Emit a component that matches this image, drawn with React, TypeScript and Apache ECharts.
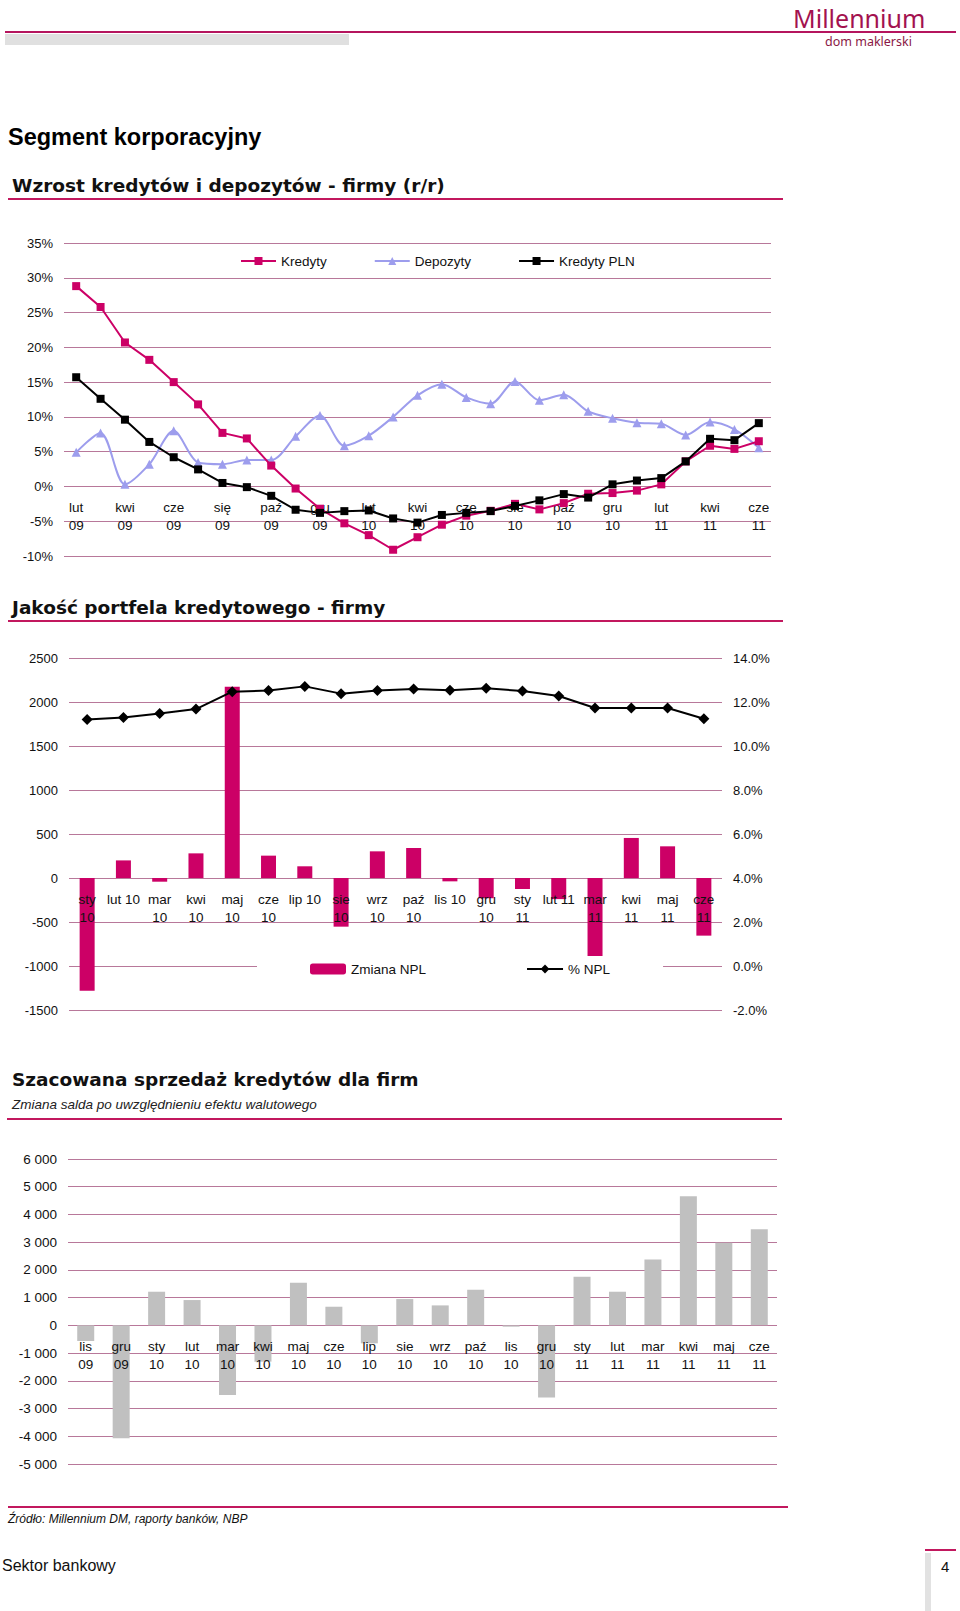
import React, { useEffect, useRef } from "react";
import * as echarts from "echarts";

// ---------- Chart 1: Wzrost kredytów i depozytów - firmy (r/r) ----------
const growthMonths = [
  "lut 09", "mar 09", "kwi 09", "maj 09", "cze 09", "lip 09", "się 09", "wrz 09", "paź 09", "lis 09",
  "gru 09", "sty 10", "lut 10", "mar 10", "kwi 10", "maj 10", "cze 10", "lip 10", "sie 10", "wrz 10",
  "paź 10", "lis 10", "gru 10", "sty 11", "lut 11", "mar 11", "kwi 11", "maj 11", "cze 11",
];
const kredyty = [
  28.8, 25.8, 20.7, 18.2, 15.0, 11.8, 7.7, 6.9, 3.0, -0.3, -3.2, -5.3, -7.0, -9.1, -7.3, -5.5, -4.2,
  -3.5, -2.5, -3.3, -2.4, -1.05, -0.95, -0.6, 0.3, 3.6, 5.85, 5.4, 6.5,
];
const depozyty = [
  4.9, 7.7, 0.3, 3.2, 8.0, 3.45, 3.2, 3.8, 3.8, 7.2, 10.2, 5.85, 7.3, 10.0, 13.1, 14.7, 12.8, 11.9,
  15.1, 12.4, 13.2, 10.8, 9.8, 9.15, 9.0, 7.4, 9.25, 8.2, 5.55,
];
const kredytyPln = [
  15.7, 12.6, 9.6, 6.4, 4.2, 2.45, 0.5, -0.1, -1.35, -3.35, -3.8, -3.55, -3.45, -4.6, -5.2, -4.1, -3.8,
  -3.55, -2.8, -2.0, -1.1, -1.6, 0.3, 0.85, 1.2, 3.6, 6.85, 6.65, 9.1,
];

// ---------- Chart 2: Jakość portfela kredytowego - firmy ----------
const nplMonths = [
  "sty\n10", "lut 10", "mar\n10", "kwi\n10", "maj\n10", "cze\n10", "lip 10", "sie\n10", "wrz\n10",
  "paź\n10", "lis 10", "gru\n10", "sty\n11", "lut 11", "mar\n11", "kwi\n11", "maj\n11", "cze\n11",
];
const nplChange = [-1280, 200, -42, 280, 2174, 254, 133, -553, 303, 341, -38, -230, -125, -240, -890, 455, 360, -655];
const nplPct = [11.2, 11.3, 11.48, 11.68, 12.47, 12.52, 12.71, 12.38, 12.52, 12.59, 12.53, 12.62, 12.5, 12.27, 11.73, 11.73, 11.73, 11.24];

// ---------- Chart 3: Szacowana sprzedaż kredytów dla firm ----------
const salesMonths = [
  "lis 09", "gru 09", "sty 10", "lut 10", "mar 10", "kwi 10", "maj 10", "cze 10", "lip 10", "sie 10",
  "wrz 10", "paź 10", "lis 10", "gru 10", "sty 11", "lut 11", "mar 11", "kwi 11", "maj 11", "cze 11",
];
const sales = [-564, -4071, 1213, 913, -2510, -1309, 1537, 672, -648, 949, 720, 1285, -48, -2606, 1753, 1213, 2378, 4660, 2978, 3470];

const GRID = "#b8789a";
const PINK = "#cc0066";
const LINE_PINK = "#c2185e";
const FONT = "Liberation Sans";
const HEAD = "DejaVu Sans";

const spaced = (v: number) => {
  const s = Math.abs(v).toString().replace(/\B(?=(\d{3})+(?!\d))/g, " ");
  return (v < 0 ? "-" : "") + s;
};

const txt = (text: string, x: number, y: number, o: any = {}) => ({
  type: "text",
  x,
  y,
  silent: true,
  z: 10,
  style: {
    text,
    fill: o.fill ?? "#000",
    fontSize: o.fontSize ?? 13,
    fontFamily: o.fontFamily ?? FONT,
    fontWeight: o.fontWeight ?? "normal",
    fontStyle: o.fontStyle ?? "normal",
    align: o.align ?? "left",
    textAlign: o.align ?? "left",
    verticalAlign: "middle",
    textVerticalAlign: "middle",
  },
});

const box = (x: number, y: number, w: number, h: number, fill: string) => ({
  type: "rect",
  silent: true,
  shape: { x, y, width: w, height: h },
  style: { fill },
});

export default function App() {
  const ref = useRef<HTMLDivElement>(null);

  useEffect(() => {
    if (!ref.current) return;
    const chart = echarts.init(ref.current, undefined, { renderer: "svg" });

    const labelBase = { color: "#111", fontFamily: FONT };

    // x axes sit on the zero line of each value axis (offset from the grid bottom)
    const catAxis = (gridIndex: number, data: string[], offset: number, interval: number, z: number) => ({
      type: "category",
      gridIndex,
      data,
      position: "bottom",
      offset,
      z,
      boundaryGap: true,
      axisLine: { show: false, onZero: false },
      axisTick: { show: false },
      axisLabel: { ...labelBase, interval, margin: 12, lineHeight: 18, fontSize: 13.5 },
    });

    const option: any = {
      animation: false,
      backgroundColor: "#fff",
      textStyle: { fontFamily: FONT },
      grid: [
        { left: 64, top: 243, width: 707, height: 313, outerBoundsMode: "none", containLabel: false },
        { left: 69, top: 658, width: 653, height: 352, outerBoundsMode: "none", containLabel: false },
        { left: 68, top: 1159, width: 709, height: 305, outerBoundsMode: "none", containLabel: false },
      ],
      legend: [
        {
          data: ["Kredyty", "Depozyty", "Kredyty PLN"],
          left: 240,
          top: 254,
          padding: 0,
          itemWidth: 35,
          itemHeight: 10,
          itemGap: 47,
          textStyle: { fontSize: 13.5, color: "#111", fontFamily: FONT },
        },
        {
          data: ["Zmiana NPL", "% NPL"],
          left: 257,
          top: 956,
          padding: [6, 53, 6, 53],
          backgroundColor: "#fff",
          itemWidth: 36,
          itemHeight: 11,
          itemGap: 100,
          textStyle: { fontSize: 13.5, color: "#111", fontFamily: FONT },
        },
      ],
      xAxis: [
        catAxis(0, growthMonths.map((m) => m.replace(" ", "\n")), -70, 1, 0),
        catAxis(1, nplMonths, -132, 0, 3),
        catAxis(2, salesMonths.map((m) => m.replace(" ", "\n")), -138.7, 0, 3),
      ],
      yAxis: [
        {
          type: "value",
          gridIndex: 0,
          min: -10,
          max: 35,
          interval: 5,
          axisLine: { show: false },
          axisTick: { show: false },
          splitLine: { lineStyle: { color: GRID, width: 1 } },
          axisLabel: { ...labelBase, margin: 11, fontSize: 13, formatter: (v: number) => `${v}%` },
        },
        {
          type: "value",
          gridIndex: 1,
          min: -1500,
          max: 2500,
          interval: 500,
          axisLine: { show: false },
          axisTick: { show: false },
          splitLine: { lineStyle: { color: GRID, width: 1 } },
          axisLabel: { ...labelBase, margin: 11, fontSize: 13, formatter: (v: number) => String(v) },
        },
        {
          type: "value",
          gridIndex: 1,
          position: "right",
          min: -2,
          max: 14,
          interval: 2,
          axisLine: { show: false },
          axisTick: { show: false },
          splitLine: { show: false },
          axisLabel: { ...labelBase, margin: 11, fontSize: 13, formatter: (v: number) => `${v.toFixed(1)}%` },
        },
        {
          type: "value",
          gridIndex: 2,
          min: -5000,
          max: 6000,
          interval: 1000,
          axisLine: { show: false },
          axisTick: { show: false },
          splitLine: { lineStyle: { color: GRID, width: 1 } },
          axisLabel: { ...labelBase, margin: 11, fontSize: 13.5, formatter: spaced },
        },
      ],
      series: [
        {
          name: "Depozyty",
          type: "line",
          xAxisIndex: 0,
          yAxisIndex: 0,
          data: depozyty,
          smooth: 0.3,
          symbol: "triangle",
          symbolSize: 9,
          lineStyle: { color: "#9d9ded", width: 2 },
          itemStyle: { color: "#9d9ded" },
          z: 2,
        },
        {
          name: "Kredyty",
          type: "line",
          xAxisIndex: 0,
          yAxisIndex: 0,
          data: kredyty,
          symbol: "rect",
          symbolSize: 8,
          lineStyle: { color: PINK, width: 2 },
          itemStyle: { color: PINK },
          z: 3,
        },
        {
          name: "Kredyty PLN",
          type: "line",
          xAxisIndex: 0,
          yAxisIndex: 0,
          data: kredytyPln,
          symbol: "rect",
          symbolSize: 8,
          lineStyle: { color: "#000", width: 2 },
          itemStyle: { color: "#000" },
          z: 4,
        },
        {
          name: "Zmiana NPL",
          type: "bar",
          xAxisIndex: 1,
          yAxisIndex: 1,
          data: nplChange,
          barWidth: 15,
          itemStyle: { color: PINK },
          z: 2,
        },
        {
          name: "% NPL",
          type: "line",
          xAxisIndex: 1,
          yAxisIndex: 2,
          data: nplPct,
          symbol: "diamond",
          symbolSize: 11,
          lineStyle: { color: "#000", width: 2 },
          itemStyle: { color: "#000" },
          z: 4,
        },
        {
          name: "Sprzedaż",
          type: "bar",
          xAxisIndex: 2,
          yAxisIndex: 3,
          data: sales,
          barWidth: 17,
          itemStyle: { color: "#c0c0c0" },
          z: 2,
        },
      ],
      graphic: [
        // header
        box(5, 31, 951, 2, "#b5155e"),
        box(5, 34, 344, 11, "#e0e0e0"),
        txt("Millennium", 793, 17.5, { fontSize: 25, fontFamily: "Noto Sans", fill: "#a3124f" }),
        txt("dom maklerski", 825, 41, { fontSize: 12.5, fontFamily: "Noto Sans", fill: "#8a1845" }),
        txt("Segment korporacyjny", 8, 137, { fontSize: 23.5, fontWeight: "bold" }),
        // section 1
        txt("Wzrost kredytów i depozytów - firmy (r/r)", 12, 185, { fontSize: 18.5, fontWeight: "bold", fontFamily: HEAD, fill: "#111" }),
        box(8, 198, 775, 2, LINE_PINK),
        // section 2
        txt("Jakość portfela kredytowego - firmy", 12, 607, { fontSize: 18.5, fontWeight: "bold", fontFamily: HEAD, fill: "#111" }),
        box(8, 620, 775, 2, LINE_PINK),
        // section 3
        txt("Szacowana sprzedaż kredytów dla firm", 12, 1079, { fontSize: 18.5, fontWeight: "bold", fontFamily: HEAD, fill: "#111" }),
        txt("Zmiana salda po uwzględnieniu efektu walutowego", 12, 1104, { fontSize: 13.5, fontStyle: "italic", fill: "#222" }),
        box(7, 1118, 775, 2, LINE_PINK),
        // footer
        box(8, 1506, 780, 2, LINE_PINK),
        txt("Źródło: Millennium DM, raporty banków, NBP", 8, 1519, { fontSize: 12, fontStyle: "italic", fill: "#111" }),
        txt("Sektor bankowy", 2, 1565, { fontSize: 16, fill: "#111" }),
        box(925, 1549, 31, 2, LINE_PINK),
        box(925, 1553, 6, 58, "#e2e2e2"),
        txt("4", 941, 1566, { fontSize: 15, fill: "#111" }),
      ],
    };

    chart.setOption(option);
    return () => chart.dispose();
  }, []);

  return (
    <div
      ref={ref}
      style={{ position: "absolute", left: 0, top: 0, width: 960, height: 1611 }}
    />
  );
}
